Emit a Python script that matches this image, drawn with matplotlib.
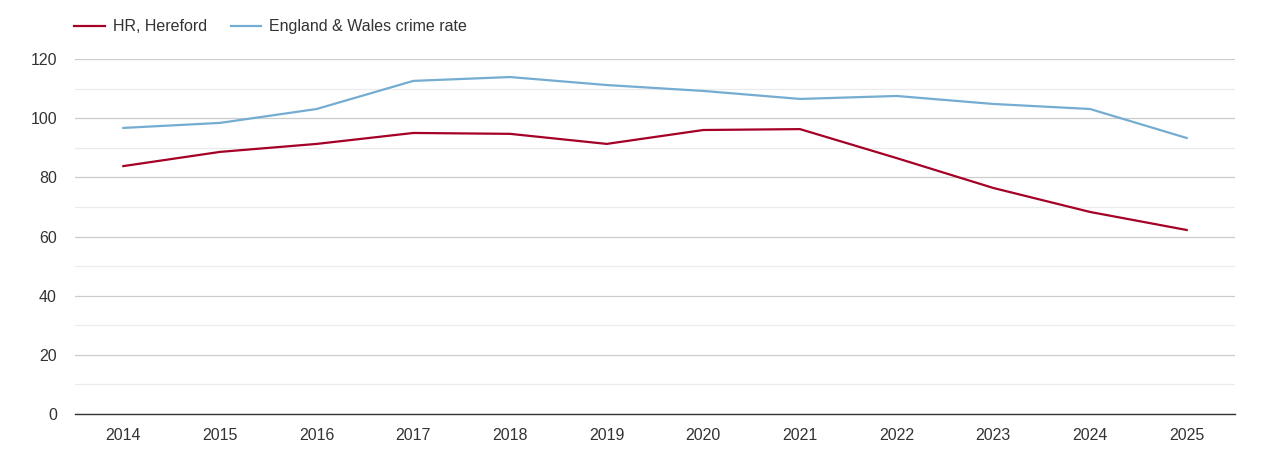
import matplotlib.pyplot as plt
from matplotlib.ticker import MultipleLocator

plt.rcParams['font.family'] = ['Liberation Sans', 'DejaVu Sans']

years = [2014, 2015, 2016, 2017, 2018, 2019, 2020, 2021, 2022, 2023, 2024, 2025]
hereford = [83.8, 88.6, 91.3, 95.0, 94.7, 91.3, 96.0, 96.3, 86.5, 76.4, 68.3, 62.2]
england_wales = [96.7, 98.4, 103.1, 112.6, 113.9, 111.2, 109.2, 106.5, 107.5, 104.8, 103.1, 93.3]
series_names = ['HR, Hereford', 'England & Wales crime rate']

red = '#a50026'
blue = '#74add1'

fig = plt.figure(figsize=(12.7, 4.5), dpi=100)
ax = fig.add_axes([75 / 1270, 36 / 450, 1160 / 1270, 355 / 450])

ax.plot(years, hereford, color=red, lw=1.6, label=series_names[0])
ax.plot(years, england_wales, color=blue, lw=1.6, label=series_names[1])

ax.set_xlim(2013.5, 2025.5)
ax.set_ylim(0, 120)
ax.set_xticks(years)
ax.yaxis.set_major_locator(MultipleLocator(20))
ax.yaxis.set_minor_locator(MultipleLocator(10))
ax.grid(axis='y', which='major', color='#cccccc', lw=0.9)
ax.grid(axis='y', which='minor', color='#ebebeb', lw=0.9)
ax.set_axisbelow(True)

for side in ['top', 'right', 'left']:
    ax.spines[side].set_visible(False)
ax.spines['bottom'].set_color('#333333')
ax.spines['bottom'].set_linewidth(1.0)
ax.tick_params(axis='both', which='both', length=0, labelsize=11.5, colors='#333333')
ax.tick_params(axis='x', pad=10)
ax.tick_params(axis='y', pad=13)

leg = fig.legend(loc='upper left', bbox_to_anchor=(60 / 1270, 1 - 5 / 450), ncol=2,
                 frameon=False, fontsize=11.5, handlelength=1.9, handletextpad=0.5,
                 columnspacing=1.5)
for t in leg.get_texts():
    t.set_color('#333333')

fig.savefig('out.png', dpi=100)
